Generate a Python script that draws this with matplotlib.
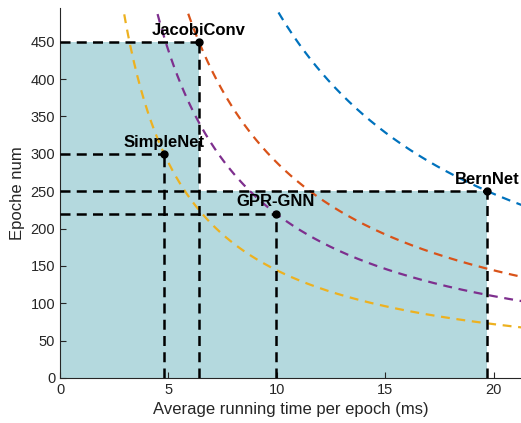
import numpy as np
import matplotlib
matplotlib.use("Agg")
import matplotlib.pyplot as plt

plt.rcParams['font.family'] = ['Liberation Sans', 'DejaVu Sans']

# models: average running time per epoch (ms) and number of epochs
models = ['JacobiConv', 'SimpleNet', 'GPR-GNN', 'BernNet']
run_time = [6.4, 4.8, 9.95, 19.7]
epochs = [450, 300, 220, 250]
curve_colors = ['#D95319', '#EDB120', '#7E2F8E', '#0072BD']

fig = plt.figure(figsize=(5.21, 4.23), dpi=100)
ax = fig.add_axes([0.1152, 0.1064, 0.8848, 0.8746])

shade = '#b4d9de'
for t, e in zip(run_time, epochs):
    ax.fill_between([0, t], 0, e, color=shade, lw=0, zorder=1)

# constant total time curves (time * epochs)
xs = np.linspace(0.5, 22, 400)
for t, e, c in zip(run_time, epochs, curve_colors):
    ax.plot(xs, t * e / xs, ls=(0, (4, 3)), color=c, lw=1.6, zorder=2)

for t, e, name in zip(run_time, epochs, models):
    ax.plot([0, t], [e, e], ls=(0, (4, 2.5)), color='black', lw=1.8, zorder=3)
    ax.plot([t, t], [0, e], ls=(0, (4, 2.5)), color='black', lw=1.8, zorder=3)
    ax.plot(t, e, 'o', color='black', ms=5, zorder=4)
    ax.annotate(name, (t, e), xytext=(0, 3), textcoords='offset points',
                ha='center', va='bottom', fontsize=12, fontweight='bold',
                zorder=5)

ax.set_xlim(0, 21.25)
ax.set_ylim(0, 495)
ax.set_xticks([0, 5, 10, 15, 20])
ax.set_yticks(np.arange(0, 451, 50))
ax.spines['top'].set_visible(False)
ax.spines['right'].set_visible(False)
for s in ['left', 'bottom']:
    ax.spines[s].set_color('#262626')
    ax.spines[s].set_linewidth(0.8)
ax.tick_params(direction='in', length=4, width=0.8, colors='#262626',
               labelsize=10.5, labelcolor='#262626')
ax.set_xlabel('Average running time per epoch (ms)', fontsize=12, color='#262626')
ax.set_ylabel('Epoche num', fontsize=12, color='#262626')

fig.savefig('out.png', dpi=100)
